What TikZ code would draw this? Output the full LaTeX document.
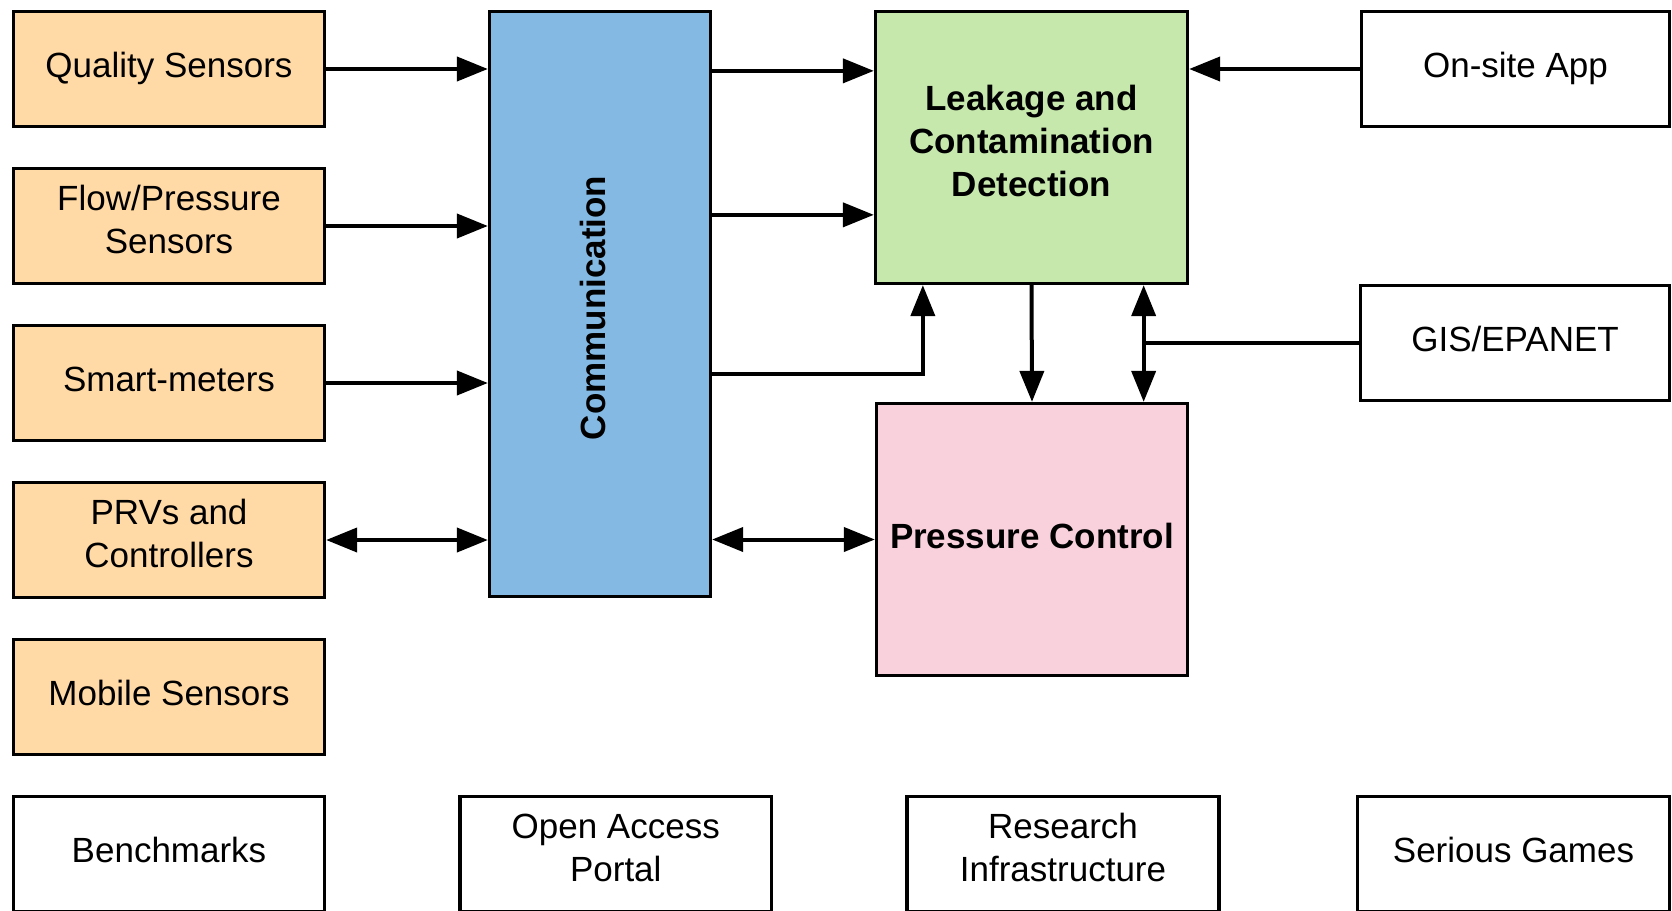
\documentclass[tikz,border=0pt]{standalone}
\usepackage{fontspec}
\setmainfont{Liberation Sans}
\usetikzlibrary{arrows.meta}
\definecolor{sensorfill}{RGB}{255,218,166}
\definecolor{commfill}{RGB}{131,185,227}
\definecolor{leakfill}{RGB}{198,232,173}
\definecolor{pressfill}{RGB}{249,209,221}
\tikzset{
  box/.style={draw=black, line width=3.3pt, rectangle, inner sep=0pt, align=center,
    font=\fontsize{35pt}{43pt}\selectfont,
    execute at begin node=\strut, execute at end node=\strut},
  sensor/.style={box, fill=sensorfill, minimum width=311pt, minimum height=115pt},
  plain/.style={box, fill=white, minimum width=311pt, minimum height=115pt},
  conn/.style={line width=4pt, -{Triangle[length=31pt,width=24pt]}},
  bconn/.style={line width=4pt, {Triangle[length=31pt,width=24pt]}-{Triangle[length=31pt,width=24pt]}},
  line/.style={line width=4pt}
}
\begin{document}
\begin{tikzpicture}[x=1pt,y=-1pt]
\useasboundingbox (0,0) rectangle (1672,910);
\clip (0,0) rectangle (1672,910);
\fill[white] (0,0) rectangle (1672,910);

% left column
\node[sensor] (qs) at (169,69) {Quality Sensors};
\node[sensor] (fp) at (169,226) {Flow/Pressure\\Sensors};
\node[sensor] (sm) at (169,383) {Smart-meters};
\node[sensor] (prv) at (169,540) {PRVs and\\Controllers};
\node[sensor] (mob) at (169,697) {Mobile Sensors};

% communication
\node[box, fill=commfill, minimum width=221pt, minimum height=585pt,
  label={[rotate=90, font=\fontsize{35pt}{43pt}\selectfont\bfseries, xshift=-4pt, yshift=3pt]center:\strut Communication\strut}] (comm) at (600,304) {};

% leakage, pressure
\node[box, fill=leakfill, minimum width=312pt, minimum height=272pt,
  font=\fontsize{35pt}{43pt}\selectfont\bfseries] (leak) at (1031.5,147.5) {Leakage and\\Contamination\\Detection};
\node[box, fill=pressfill, minimum width=311pt, minimum height=272pt,
  font=\fontsize{35pt}{43pt}\selectfont\bfseries] (press) at (1032,539.5) {Pressure Control};

% right column
\node[plain, minimum width=308pt] (app) at (1515.5,69) {On-site App};
\node[plain, minimum width=309pt] (gis) at (1515,343) {GIS/EPANET};

% bottom row
\node[plain] (bench) at (169,854) {Benchmarks};
\node[plain, minimum width=311.5pt] (oap) at (615.75,854) {Open Access\\Portal};
\node[plain, minimum width=312pt] (ri) at (1063,854) {Research\\Infrastructure};
\node[plain, minimum width=312pt] (sg) at (1513.5,854) {Serious Games};

% connectors
\draw[conn] (qs.east) -- (qs.east -| comm.west);
\draw[conn] (fp.east) -- (fp.east -| comm.west);
\draw[conn] (sm.east) -- (sm.east -| comm.west);
\draw[bconn] (prv.east) -- (prv.east -| comm.west);

\draw[conn] ([yshift=-61pt]comm.north east) -- ([yshift=-61pt]leak.north west);
\draw[conn] ([yshift=-205pt]comm.north east) -- ([yshift=-205pt]leak.north west);
\draw[conn] ([yshift=-364.5pt]comm.north east) -| ([xshift=49pt]leak.south west);
\draw[bconn] (press.west -| comm.east) -- (press.west);

\draw[conn] (leak.south) -- (press.north);
\draw[bconn] ([xshift=-45.5pt]leak.south east) -- ([xshift=-45.5pt]press.north east);
\coordinate (j) at ([xshift=-45.5pt]leak.south east |- gis.west);
\draw[line] (gis.west) -- (j);
\draw[conn] (app.west) -- (leak.east |- app.west);
\end{tikzpicture}
\end{document}
